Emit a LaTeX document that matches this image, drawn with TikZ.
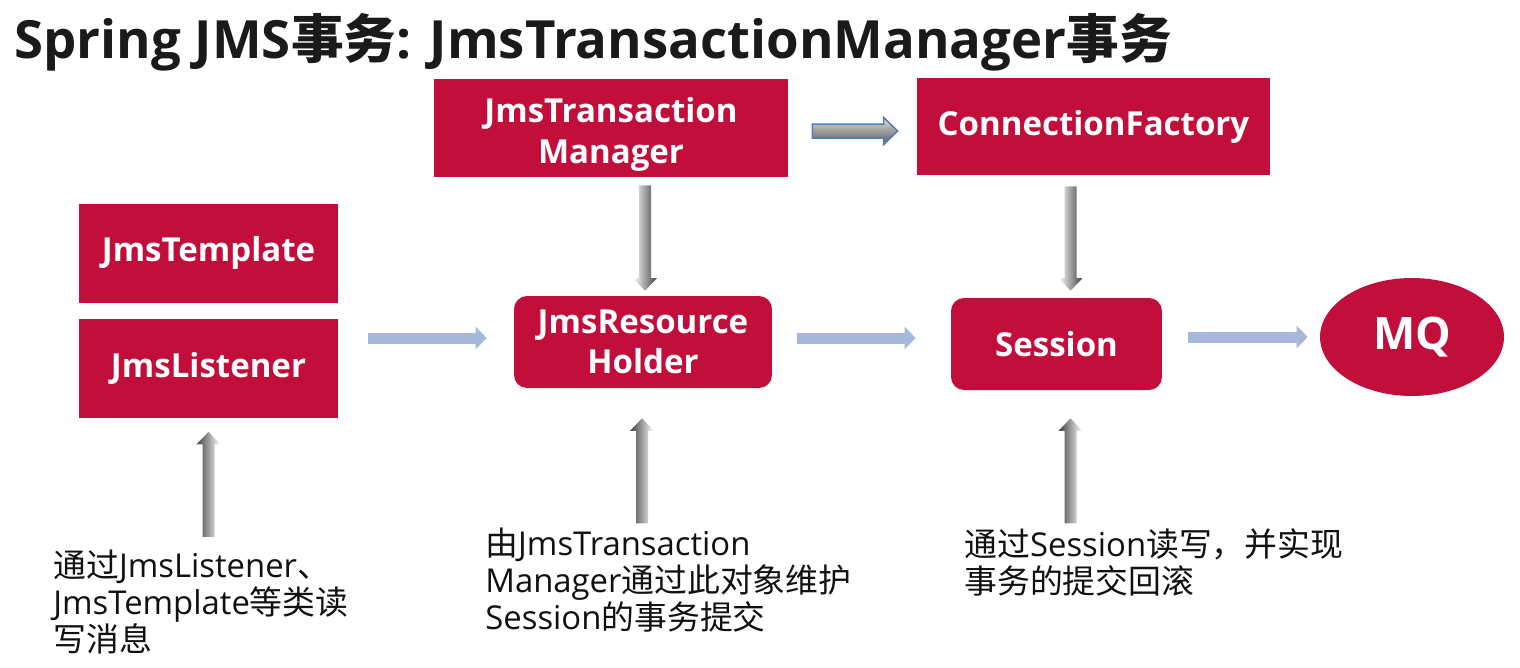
\documentclass[tikz,border=0pt]{standalone}
\usepackage{fontspec}
\setmainfont{Open Sans}
\newfontfamily\cjk{Noto Sans CJK SC}
\usetikzlibrary{shapes.geometric,arrows.meta,calc}
\definecolor{boxred}{HTML}{C20E3B}
\definecolor{lblue}{HTML}{A7B9DA}
\definecolor{oblue}{HTML}{4F7EBA}
\definecolor{titlec}{HTML}{1A1A1A}
\definecolor{bodyc}{HTML}{111111}
\newcommand\grayarrow[4]{%
  \coordinate (gab) at ($(#2)!0.25cm!(#1)$);
  \shade[left color=#3,right color=#4]
    ($(#1)+(-6,0)$) -- ($(gab)+(-6,0)$) -- ($(gab)+(-12,0)$) -- (#2) --
    ($(gab)+(12,0)$) -- ($(gab)+(6,0)$) -- ($(#1)+(6,0)$) -- cycle;}
\begin{document}
\begin{tikzpicture}[x=0.02cm,y=-0.02cm,
  box/.style={fill=boxred, text=white, inner sep=0pt, align=center,
    font=\fontsize{18.8}{23.1}\selectfont\bfseries},
  body/.style={anchor=base west, inner sep=0pt, text=bodyc,
    font=\fontsize{18.7}{21.3}\selectfont},
  lb/.style={draw=lblue, line width=0.22cm, -{Triangle[length=0.22cm, width=0.44cm]}}]
\fill[white] (0,0) rectangle (1520,667);
\useasboundingbox (0,0) rectangle (1520,667);

\node[anchor=base west, inner sep=0pt, text=titlec,
  font=\fontsize{30}{36}\selectfont\bfseries] (title) at (14,58)
  {Spring JMS{\cjk 事务}: JmsTransactionManager{\cjk 事务}};

\node[box, minimum width=7.08cm, minimum height=1.96cm] (tm) at (611,128) {\rule{0pt}{0.76cm}JmsTransaction\\Manager};
\node[box, minimum width=7.06cm, minimum height=1.94cm] (cf) at (1093.5,126.5) {ConnectionFactory};
\node[box, minimum width=5.18cm, minimum height=1.98cm] (tpl) at (208.5,253) {JmsTemplate};
\node[box, minimum width=5.18cm, minimum height=1.98cm] (lst) at (208.5,368) {JmsListener};
\node[box, rounded corners=0.26cm, minimum width=5.16cm, minimum height=1.84cm] (holder) at (643,342) {JmsResource\\Holder};
\node[box, rounded corners=0.26cm, minimum width=4.22cm, minimum height=1.84cm] (sess) at (1056.5,344) {Session};
\node[box, ellipse, minimum width=3.68cm, minimum height=2.36cm,
  font=\fontsize{25.5}{30}\selectfont\bfseries] (mq) at (1412,337) {MQ};

\node[body] (t1) at (53,577) {\parbox[t]{8.4cm}{\raggedright
  {\cjk 通过}JmsListener{\cjk 、}\\JmsTemplate{\cjk 等类读}\\{\cjk 写消息}}};
\node[body] (t2) at (485,555) {\parbox[t]{8.4cm}{\raggedright
  {\cjk 由}JmsTransaction\\Manager{\cjk 通过此对象维护}\\Session{\cjk 的事务提交}}};
\node[body] (t3) at (964,556) {\parbox[t]{9.2cm}{\raggedright
  {\cjk 通过}Session{\cjk 读写，并实现}\\{\cjk 事务的提交回滚}}};

% light blue flow arrows
\path (holder.west) ++(-27,-4) coordinate (h1e);
\path (h1e -| lst.east) ++(30,0) coordinate (h1s);
\draw[lb] (h1s) -- (h1e);
\path (holder.east) ++(25,-4) coordinate (h2s);
\path (h2s -| sess.west) ++(-35,0) coordinate (h2e);
\draw[lb] (h2s) -- (h2e);
\path (mq.west -| sess.east) ++(26,0) coordinate (h3s);
\path (mq.west) ++(-12,0) coordinate (h3e);
\draw[lb] (h3s) -- (h3e);

% outlined arrow TM -> CF
\path (tm.east) ++(24,3) coordinate (o1s);
\path (o1s -| cf.west) ++(-19,0) coordinate (o1e);
\shadedraw[draw=oblue, line width=0.03cm, top color=gray!25, bottom color=black!65]
  ($(o1s)+(0,-7)$) -- ($(o1e)+(-14,-7)$) -- ($(o1e)+(-14,-13.5)$) -- (o1e) --
  ($(o1e)+(-14,13.5)$) -- ($(o1e)+(-14,7)$) -- ($(o1s)+(0,7)$) -- cycle;

% gray downward arrows
\path (holder.north |- tm.south) ++(2,8) coordinate (d1s);
\path (holder.north) ++(2,-5) coordinate (d1e);
\grayarrow{d1s}{d1e}{white}{black!75}
\path (sess.north) ++(14,-7) coordinate (d2e);
\path (d2e |- cf.south) ++(0,11) coordinate (d2s);
\grayarrow{d2s}{d2e}{white}{black!75}

% gray upward arrows
\path (lst.south) ++(0,14) coordinate (u1e);
\path (u1e) ++(0,105) coordinate (u1s);
\grayarrow{u1s}{u1e}{black!75}{white}
\path (holder.south) ++(-1,30) coordinate (u2e);
\path (u2e) ++(0,105) coordinate (u2s);
\grayarrow{u2s}{u2e}{black!75}{white}
\path (sess.south) ++(14,28) coordinate (u3e);
\path (u3e) ++(0,105) coordinate (u3s);
\grayarrow{u3s}{u3e}{black!75}{white}
\end{tikzpicture}
\end{document}
